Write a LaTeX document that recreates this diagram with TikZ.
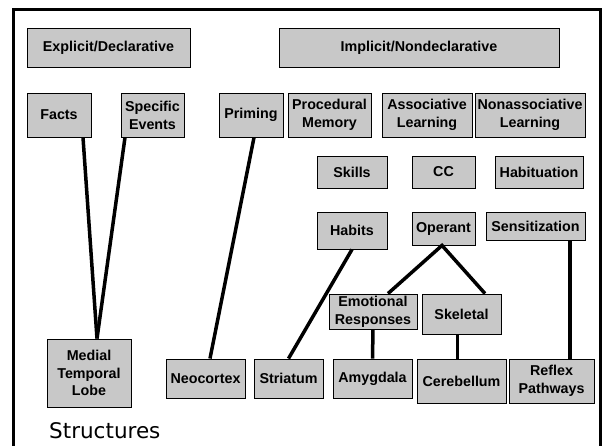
\documentclass[tikz,border=0pt]{standalone}
\usepackage{fontspec}
\setmainfont{Liberation Sans}
\newfontfamily\structfont{DejaVu Sans}
\definecolor{boxgray}{RGB}{200,200,200}

\begin{document}
\begin{tikzpicture}[x=1pt,y=-1pt,
    box/.style={draw,line width=0.9pt,fill=boxgray,inner sep=0pt,align=center,
      font=\fontsize{14.3}{17.8}\selectfont\bfseries},
    link/.style={line width=3.5pt}]
        \clip (0,0) rectangle (602,446);
        % the frame, open at the bottom
        \draw[line width=3pt] (13.5,460) -- (13.5,9.5) -- (600.5,9.5) -- (600.5,460);
        % the boxes: name/x/y/width/height/text
        \foreach \name/\x/\y/\w/\h/\txt in {
            explicit/108.5/47.5/163/39/{Explicit/Declarative},
            implicit/419/47.5/280/39/{Implicit/Nondeclarative},
            facts/59/115/64/44/{Facts},
            events/152.5/115/63/44/{Specific\\Events},
            priming/251/115/64/44/{Priming},
            procedural/329.5/115/83/44/{Procedural\\Memory},
            associative/427/115/90/44/{Associative\\Learning},
            nonassoc/530/115/110/44/{Nonassociative\\Learning},
            skills/352/172/70/32/{Skills},
            cc/443.5/172/63/32/{CC},
            habituation/539/172/88/32/{Habituation},
            habits/352/230.5/70/37/{Habits},
            operant/443.5/228.5/63/33/{Operant},
            sensitization/535.5/226/99/28/{Sensitization},
            emotional/373/311.5/88/35/{Emotional\\Responses},
            skeletal/461.5/314/79/40/{Skeletal},
            mtl/89/373/84/68/{Medial\\Temporal\\Lobe},
            neocortex/205.5/378.5/79/39/{Neocortex},
            striatum/288.5/378.5/69/39/{Striatum},
            amygdala/372.5/378.5/79/39/{Amygdala},
            cerebellum/461.5/381/89/44/{Cerebellum},
            reflex/551.5/381/85/44/{Reflex\\Pathways}}
        {
          \node[box,minimum width=\w,minimum height=\h] (\name) at (\x,\y) {\txt};
        }
        % the links from memory types to structures
        \draw[link] ([xshift=24pt]facts.south) -- ([xshift=8pt]mtl.north);
        \draw[link] ([xshift=-27.5pt]events.south) -- ([xshift=8pt]mtl.north);
        \draw[link] ([xshift=3pt]priming.south) -- ([xshift=4.5pt]neocortex.north);
        \draw[link] (habits.south) -- (striatum.north);
        \draw[link] ([xshift=15pt]emotional.north) -- ([xshift=-1.5pt]operant.south) -- ([xshift=23.5pt]skeletal.north);
        \draw[link] (emotional.south) -- (amygdala.north);
        \draw[link] ([xshift=-4pt]skeletal.south) -- ([xshift=-4pt]cerebellum.north);
        \draw[link] ([xshift=34.5pt]sensitization.south) -- ([xshift=18.5pt]reflex.north);
        % label at the bottom
        \node[anchor=base west,inner sep=0pt,font=\structfont\fontsize{21.5}{24}\selectfont] (structures) at (49,438) {Structures};
\end{tikzpicture}
\end{document}
